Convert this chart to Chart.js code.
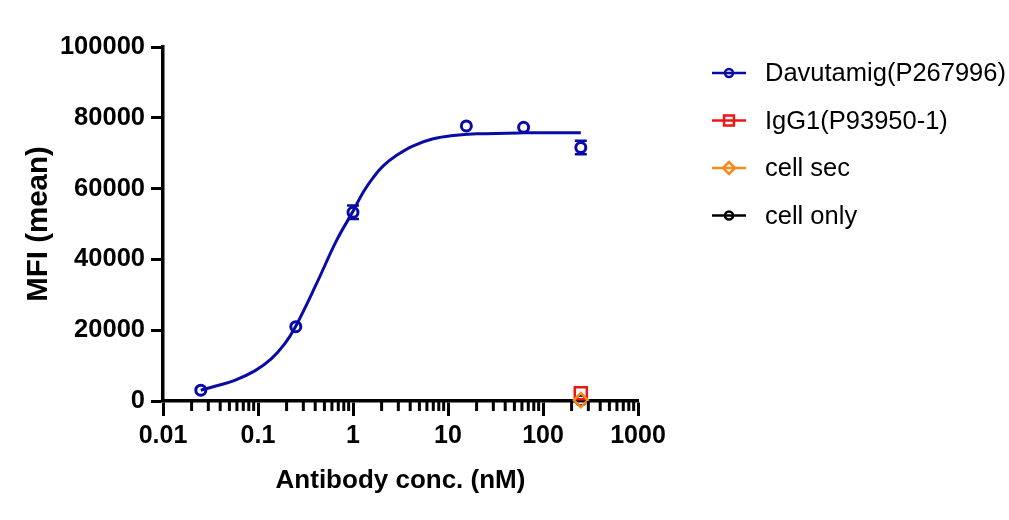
<!DOCTYPE html>
<html><head><meta charset="utf-8">
<script src="https://cdn.jsdelivr.net/npm/chart.js@4.4.1/dist/chart.umd.min.js"></script>
<style>html,body{margin:0;padding:0;background:#fff;}#wrap{width:1009px;height:520px;}</style>
</head><body><div id="wrap"><canvas id="c" width="1009" height="520"></canvas></div>
<script>
// ---- data ----
const concentrations = [0.025, 0.25, 1, 15.6, 62.5, 250];
const davutamigMFI   = [3050, 21000, 53300, 77700, 77300, 71600];
const davutamigErr   = [300, 600, 1900, 400, 400, 1900];

const fitConc = [0.025, 0.0351, 0.0569, 0.0925, 0.1387, 0.1916, 0.247, 0.413, 0.672, 1.0, 1.28, 1.63, 2.08, 2.88, 4.31, 7.0, 11.4, 20, 62, 250];
const fitMFI  = [3050, 4150, 5840, 8500, 11970, 16200, 20890, 33140, 45360, 53600, 58990, 63100, 66400, 69400, 72100, 74060, 74990, 75470, 75750, 75800];

const controlConc = [250];
const igg1MFI     = [2200];
const cellSecMFI  = [250];
const cellOnlyMFI = [150];

const seriesLabels = ['Davutamig(P267996)', 'IgG1(P93950-1)', 'cell sec', 'cell only'];
const xTickValues = [0.01, 0.1, 1, 10, 100, 1000];
const xTickLabels = ['0.01', '0.1', '1', '10', '100', '1000'];
const yTickValues = [0, 20000, 40000, 60000, 80000, 100000];
const yTickLabels = ['0', '20000', '40000', '60000', '80000', '100000'];
const xTitle = 'Antibody conc. (nM)';
const yTitle = 'MFI (mean)';

const BLUE = '#0A0AA6', RED = '#EE1515', ORANGE = '#F58A1F', BLACK = '#000000';
const FONT = '"Liberation Sans", Arial, sans-serif';

const pts = (xs, ys) => xs.map((x, i) => ({x: x, y: ys[i]}));

const datasets = [
  {label: seriesLabels[0], data: pts(concentrations, davutamigMFI), err: davutamigErr,
   borderColor: BLUE, backgroundColor: 'rgba(0,0,0,0)', showLine: false,
   pointStyle: 'circle', pointRadius: 5, pointBorderWidth: 3, legendRadius: 4, order: 1, clip: false},
  {label: seriesLabels[1], data: pts(controlConc, igg1MFI),
   borderColor: RED, backgroundColor: 'rgba(0,0,0,0)', showLine: false,
   pointStyle: 'rect', pointRadius: 8.5, pointBorderWidth: 2.5, legendRadius: 7, order: 3, clip: false},
  {label: seriesLabels[2], data: pts(controlConc, cellSecMFI),
   borderColor: ORANGE, backgroundColor: 'rgba(0,0,0,0)', showLine: false,
   pointStyle: 'rectRot', pointRadius: 7, pointBorderWidth: 2.5, legendRadius: 6, order: 2, clip: false},
  {label: seriesLabels[3], data: pts(controlConc, cellOnlyMFI),
   borderColor: BLACK, backgroundColor: 'rgba(0,0,0,0)', showLine: false,
   pointStyle: 'circle', pointRadius: 5, pointBorderWidth: 2.5, legendRadius: 4, order: 4, clip: false},
  {label: 'fit', data: pts(fitConc, fitMFI), isFit: true,
   borderColor: BLUE, borderWidth: 3, pointRadius: 0, showLine: true, fill: false,
   tension: 0.4, order: 10, clip: false}
];

const minorTicksPlugin = {
  id: 'minorTicks',
  afterDraw(chart) {
    const s = chart.scales.x, ctx = chart.ctx, y0 = chart.chartArea.bottom;
    ctx.save();
    ctx.strokeStyle = '#000'; ctx.lineWidth = 3;
    for (let e = Math.round(Math.log10(s.min)); e < Math.round(Math.log10(s.max)); e++) {
      for (let k = 2; k <= 9; k++) {
        const v = k * Math.pow(10, e);
        const px = s.getPixelForValue(v);
        ctx.beginPath(); ctx.moveTo(px, y0); ctx.lineTo(px, y0 + 10); ctx.stroke();
      }
    }
    ctx.restore();
  }
};

// error bars drawn only where they stick out of the symbol (as in the original)
const errorBarPlugin = {
  id: 'errorBars',
  beforeDatasetsDraw(chart) {
    const ctx = chart.ctx, xs = chart.scales.x, ys = chart.scales.y;
    chart.data.datasets.forEach(ds => {
      if (!ds.err) return;
      const r = ds.pointRadius + ds.pointBorderWidth / 2;
      ctx.save();
      ctx.strokeStyle = ds.borderColor; ctx.lineWidth = 2.5;
      ds.data.forEach((p, i) => {
        const px = xs.getPixelForValue(p.x);
        const pc = ys.getPixelForValue(p.y);
        const yt = ys.getPixelForValue(p.y + ds.err[i]);
        const yb = ys.getPixelForValue(p.y - ds.err[i]);
        ctx.beginPath();
        if (pc - yt > r - 1) {
          ctx.moveTo(px, pc - r); ctx.lineTo(px, yt);
          ctx.moveTo(px - 6, yt); ctx.lineTo(px + 6, yt);
        }
        if (yb - pc > r - 1) {
          ctx.moveTo(px, pc + r); ctx.lineTo(px, yb);
          ctx.moveTo(px - 6, yb); ctx.lineTo(px + 6, yb);
        }
        ctx.stroke();
      });
      ctx.restore();
    });
  }
};

const legendPlugin = {
  id: 'sideLegend',
  afterDraw(chart) {
    const ctx = chart.ctx, a = chart.chartArea;
    const x0 = a.right + 74, y0 = a.top + 26, step = 47.5;
    ctx.save();
    chart.data.datasets.filter(d => !d.isFit).forEach((ds, i) => {
      const y = y0 + i * step;
      ctx.strokeStyle = ds.borderColor; ctx.lineWidth = 2.5;
      ctx.beginPath(); ctx.moveTo(x0, y); ctx.lineTo(x0 + 34, y); ctx.stroke();
      ctx.fillStyle = 'rgba(0,0,0,0)';
      Chart.helpers.drawPoint(ctx, {pointStyle: ds.pointStyle, radius: ds.legendRadius, borderWidth: 2.5, rotation: 0},
        x0 + 17, y);
      ctx.fillStyle = '#000';
      ctx.font = '25.5px ' + FONT;
      ctx.textBaseline = 'middle'; ctx.textAlign = 'left';
      ctx.fillText(ds.label, x0 + 53, y + 1);
    });
    ctx.restore();
  }
};

new Chart(document.getElementById('c'), {
  type: 'scatter',
  data: {datasets: datasets},
  options: {
    responsive: false, animation: false, devicePixelRatio: 1,
    layout: {padding: {left: 0, right: 371, top: 47, bottom: 0}},
    plugins: {legend: {display: false}, tooltip: {enabled: false}},
    elements: {point: {backgroundColor: 'rgba(0,0,0,0)'}},
    scales: {
      x: {
        type: 'logarithmic', min: 0.01, max: 1000,
        afterFit: s => { s.height = 119; },
        afterBuildTicks: s => { s.ticks = xTickValues.map(v => ({value: v})); },
        border: {color: '#000', width: 3.5},
        grid: {drawOnChartArea: false, drawTicks: true, tickLength: 15, tickWidth: 3, tickColor: '#000'},
        ticks: {
          autoSkip: false, maxRotation: 0, padding: 5, color: '#000',
          font: {family: FONT, size: 25, weight: 'bold'},
          callback: (v) => { const i = xTickValues.indexOf(v); return i >= 0 ? xTickLabels[i] : ''; }
        },
        title: {display: true, text: xTitle, color: '#000', padding: {top: 0, bottom: 24},
                font: {family: FONT, size: 26, weight: 'bold'}}
      },
      y: {
        type: 'linear', min: 0, max: 100000,
        afterFit: s => { s.width = 163; },
        afterBuildTicks: s => { s.ticks = yTickValues.map(v => ({value: v})); },
        border: {color: '#000', width: 3.5},
        grid: {drawOnChartArea: false, drawTicks: true, tickLength: 12, tickWidth: 3, tickColor: '#000'},
        ticks: {
          padding: 6, color: '#000',
          font: {family: FONT, size: 25.5, weight: 'bold'},
          callback: (v) => { const i = yTickValues.indexOf(v); return i >= 0 ? yTickLabels[i] : ''; }
        },
        title: {display: true, text: yTitle, color: '#000', padding: {top: 21, bottom: 0},
                font: {family: FONT, size: 29.5, weight: 'bold'}}
      }
    }
  },
  plugins: [minorTicksPlugin, errorBarPlugin, legendPlugin]
});
</script>
</body></html>
